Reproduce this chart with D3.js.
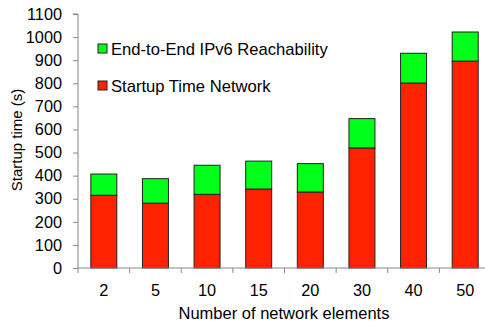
<!DOCTYPE html>
<html><head><meta charset="utf-8">
<script src="https://cdn.jsdelivr.net/npm/d3@7"></script>
<style>body{margin:0;background:#fff}svg{display:block;font-family:"Liberation Sans",Arial,sans-serif}</style>
</head><body><svg id="c" width="485" height="324"></svg>
<script>
const categories = ["2","5","10","15","20","30","40","50"];
const startupNetwork = [315, 281, 319, 342, 329, 520, 801, 896];
const ipv6Reach = [92, 106, 126, 121, 123, 127, 129, 126];
const yTicks = [0,100,200,300,400,500,600,700,800,900,1000,1100];
const seriesNames = ["End-to-End IPv6 Reachability","Startup Time Network"];
const colors = {red:"#ff2200", green:"#00ff19"};

const svg = d3.select("#c");
const mLeft = 78, mRight = 491, mTop = 14, mBottom = 268;
const x = d3.scaleBand().domain(categories).range([mLeft, mRight]).paddingInner(0).paddingOuter(0);
const y = d3.scaleLinear().domain([0,1100]).range([mBottom, mTop]);
const bw = 26;

const data = categories.map((c,i)=>({c, a:startupNetwork[i], b:ipv6Reach[i]}));
const g = svg.append("g");
g.selectAll("rect.r").data(data).join("rect").attr("class","r")
  .attr("x", d=>x(d.c)+x.bandwidth()/2-bw/2).attr("width", bw)
  .attr("y", d=>y(d.a)).attr("height", d=>y(0)-y(d.a))
  .attr("fill", colors.red).attr("stroke","#222").attr("stroke-width",1);
g.selectAll("rect.g").data(data).join("rect").attr("class","g")
  .attr("x", d=>x(d.c)+x.bandwidth()/2-bw/2).attr("width", bw)
  .attr("y", d=>y(d.a+d.b)).attr("height", d=>y(d.a)-y(d.a+d.b))
  .attr("fill", colors.green).attr("stroke","#222").attr("stroke-width",1);

// y axis
const ya = svg.append("g").attr("transform",`translate(${mLeft},0)`)
  .call(d3.axisLeft(y).tickValues(yTicks).tickFormat(d3.format("d")).tickSize(5).tickPadding(11));
ya.select(".domain").attr("stroke","#888").attr("d",`M-5,${y(1100)}H0V${mBottom}`);
ya.selectAll(".tick line").attr("stroke","#888");
ya.selectAll("text").attr("font-size",16.3).attr("fill","#000").attr("font-family","Liberation Sans, Arial, sans-serif");

// x axis
const xa = svg.append("g").attr("transform",`translate(0,${mBottom})`)
  .call(d3.axisBottom(x).tickSize(0).tickPadding(16));
xa.select(".domain").attr("stroke","#888").attr("d",`M${mLeft},0H${mRight}`);
xa.selectAll("text").attr("font-size",16.3).attr("fill","#000").attr("font-family","Liberation Sans, Arial, sans-serif");
xa.selectAll("line.bt").data(categories.slice(1)).join("line").attr("class","bt")
  .attr("x1",d=>x(d)).attr("x2",d=>x(d)).attr("y1",0).attr("y2",5).attr("stroke","#888");
xa.append("line").attr("x1",mLeft).attr("x2",mLeft).attr("y1",0).attr("y2",5).attr("stroke","#888");

// titles
svg.append("text").attr("x",284).attr("y",319).attr("text-anchor","middle")
  .attr("font-size",16.5).text("Number of network elements");
svg.append("text").attr("transform","translate(21.5,140) rotate(-90)").attr("text-anchor","middle")
  .attr("font-size",15).text("Startup time (s)");

// legend
const leg = svg.append("g");
[[seriesNames[0],colors.green,49],[seriesNames[1],colors.red,86]].forEach(([t,c,cy])=>{
  leg.append("rect").attr("x",98).attr("y",cy-5).attr("width",9).attr("height",9)
    .attr("fill",c).attr("stroke","#222").attr("stroke-width",1);
  leg.append("text").attr("x",111).attr("y",cy+5.8).attr("font-size",16.6).text(t);
});
</script></body></html>
